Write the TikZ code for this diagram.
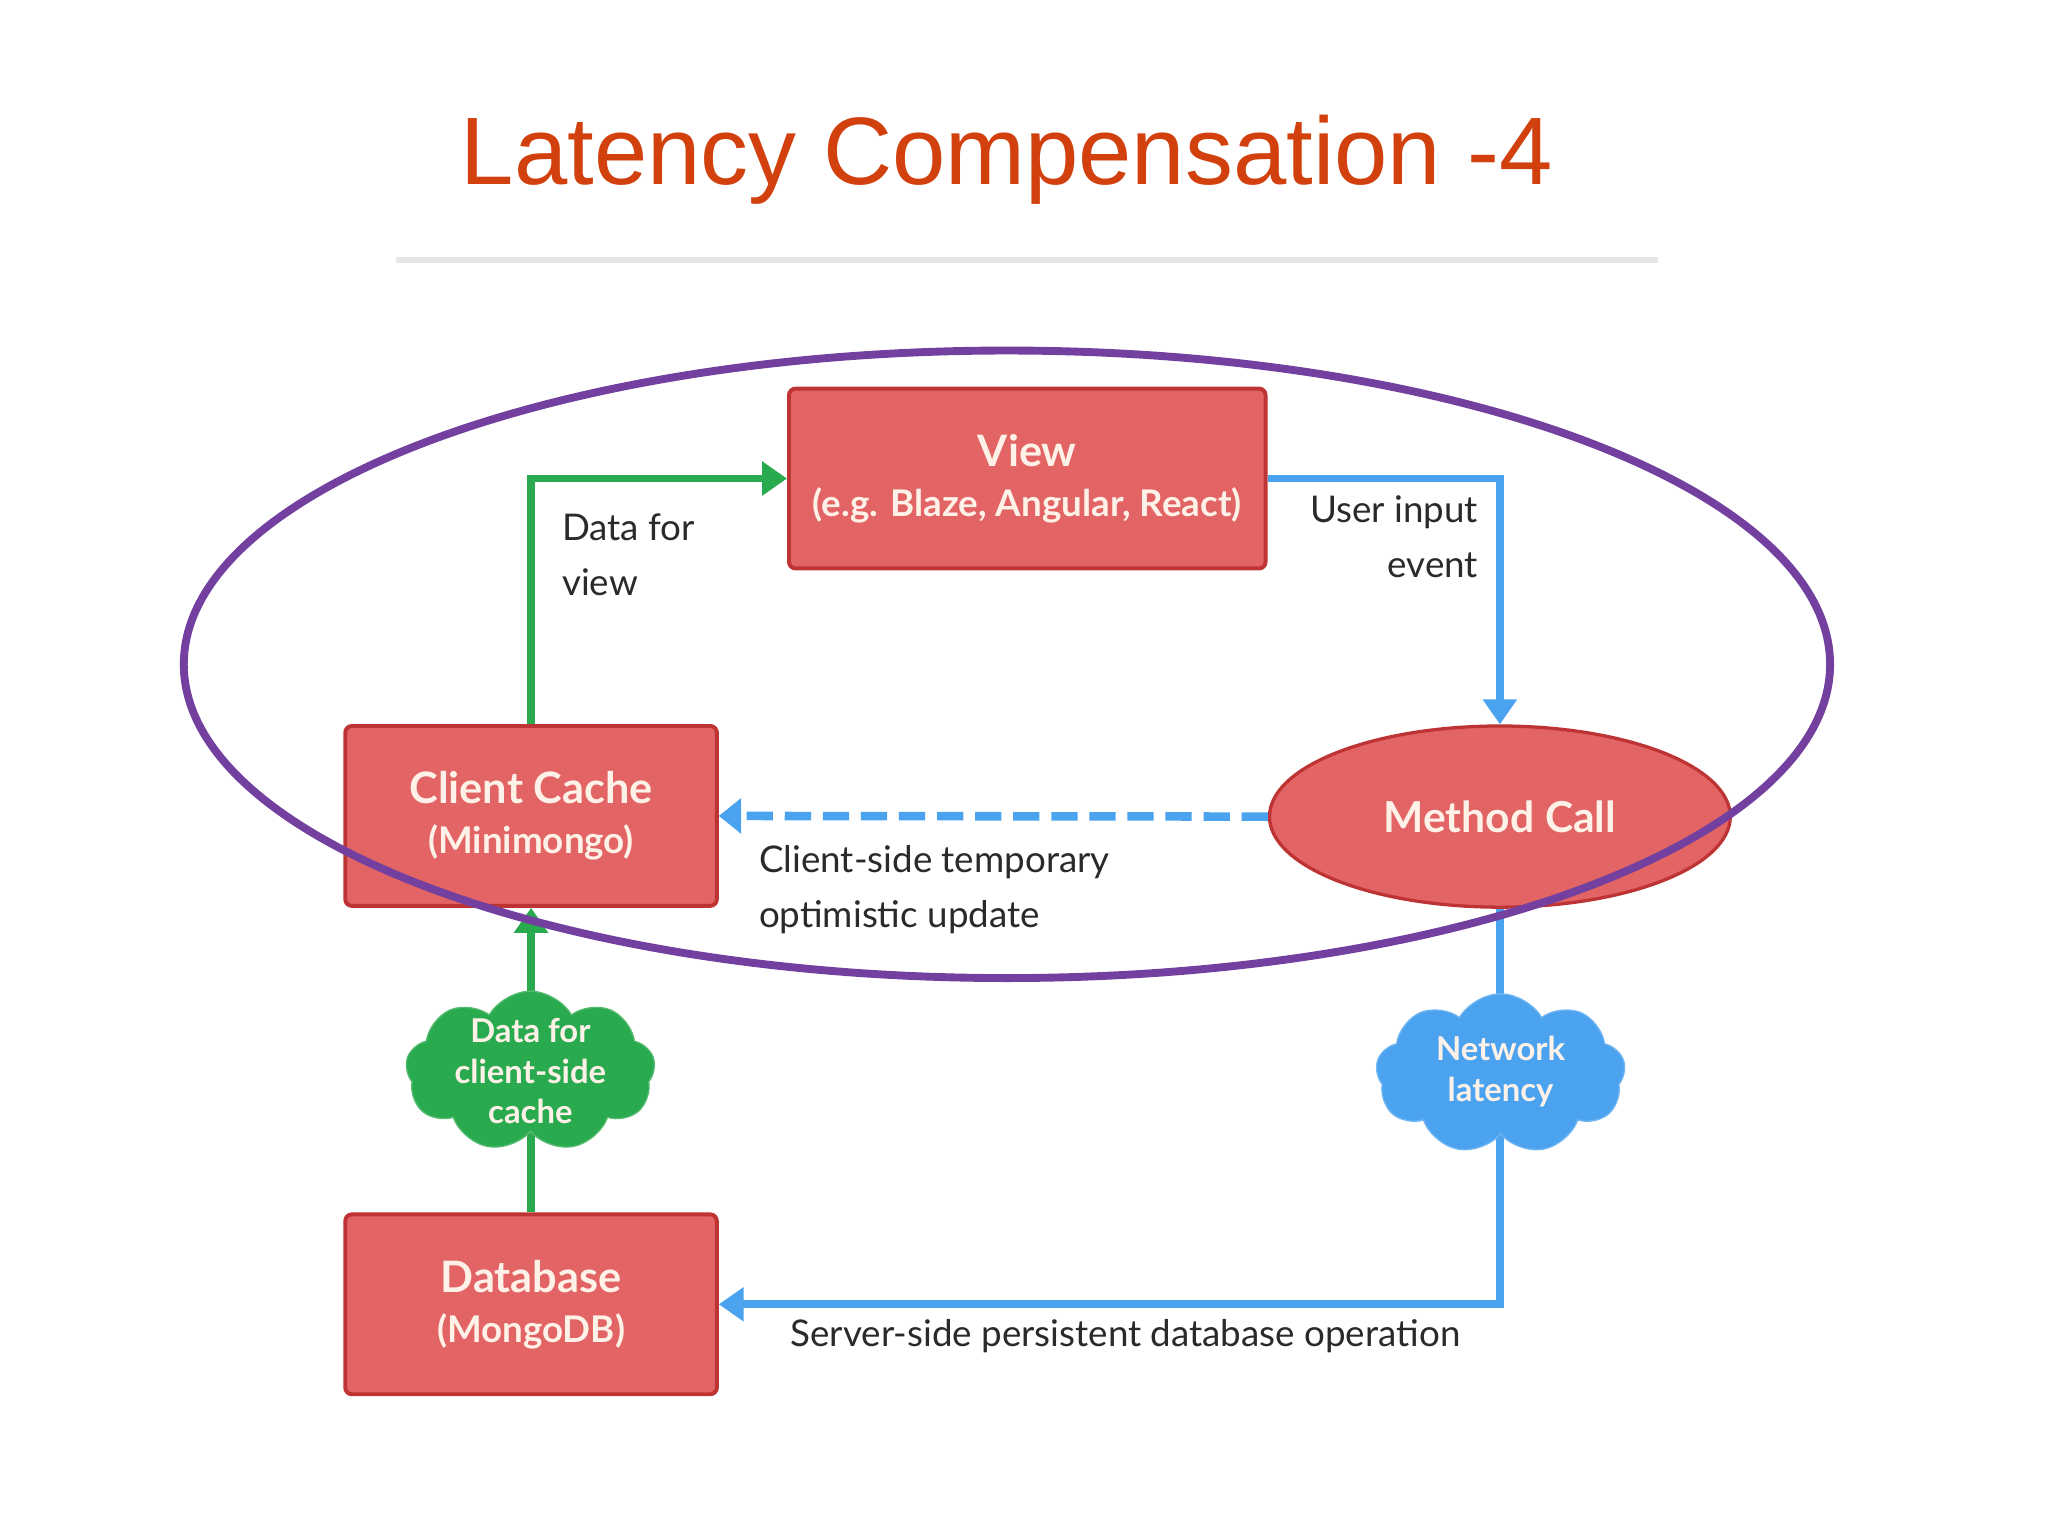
\documentclass[tikz,border=0pt]{standalone}
\usepackage{fontspec}
\setmainfont{Lato}
\newfontfamily\titlefont{Liberation Sans}
\usetikzlibrary{arrows.meta,shapes.geometric,shapes.symbols}
\definecolor{titlecol}{HTML}{D2400E}
\definecolor{boxfill}{HTML}{E36464}
\definecolor{boxline}{HTML}{BE3434}
\definecolor{boxtext}{HTML}{FDF1E8}
\definecolor{grn}{HTML}{2AAA4E}
\definecolor{blu}{HTML}{4BA3EF}
\definecolor{purp}{HTML}{7340A0}
\definecolor{lbl}{HTML}{2A2A2A}
\definecolor{rule}{HTML}{E6E6E6}
\tikzset{
  rbox/.style={draw=boxline, fill=boxfill, line width=3pt, rounded corners=5pt,
    minimum width=283pt, minimum height=137pt, inner sep=0pt, align=center,
    text=boxtext, font=\bfseries\fontsize{28}{38}\selectfont},
  mcall/.style={ellipse, draw=boxline, fill=boxfill, line width=2.5pt,
    minimum width=351pt, minimum height=138pt, inner sep=0pt,
    text=boxtext, font=\bfseries\fontsize{32.5}{36}\selectfont},
  gcloud/.style={cloud, cloud puffs=9, cloud puff arc=120, aspect=1.55,
    fill=grn, draw=grn!80!white, line width=1pt, minimum width=190pt, minimum height=122pt, inner sep=0pt},
  bcloud/.style={cloud, cloud puffs=9, cloud puff arc=120, aspect=1.55,
    fill=blu, draw=blu!80!white, line width=1pt, minimum width=190pt, minimum height=122pt, inner sep=0pt},
  cloudtxt/.style={align=center, text=boxtext, font=\bfseries\fontsize{25}{31}\selectfont, inner sep=0pt},
  lbltxt/.style={text=lbl, font=\fontsize{28}{42}\selectfont, inner sep=0pt},
  garrow/.style={draw=grn, line width=6pt, -{Triangle[length=19pt,width=25pt]}},
  barrow/.style={draw=blu, line width=6pt, -{Triangle[length=19pt,width=25pt]}},
  bdash/.style={draw=blu, line width=6.5pt, dash pattern=on 20pt off 9pt, -{Triangle[length=17pt,width=26pt]}},
}
\begin{document}
\begin{tikzpicture}[x=1pt,y=-1pt]
\useasboundingbox (0,0) rectangle (1560,1170);
\fill[white] (0,0) rectangle (1560,1170);
% title
\node[text=titlecol, font=\titlefont\fontsize{73}{80}\selectfont, inner sep=0pt] (title) at (767,122) {Latency Compensation -4};
\coordinate (rl) at (302,198);
\coordinate (rr) at (1263,198);
\draw[rule, line width=5pt] (rl) -- (rr);
% nodes
\node[rbox, minimum width=363pt] (view) at (782.5,364.5) {{\fontsize{33}{38}\selectfont View}\\(e.g. Blaze, Angular, React)};
\node[rbox] (cc) at (404.5,621.5) {{\fontsize{33}{38}\selectfont Client Cache}\\(Minimongo)};
\node[rbox] (db) at (404.5,993.5) {{\fontsize{33}{38}\selectfont Database}\\(MongoDB)};
\node[mcall] (mc) at (1142.5,622) {Method Call};
% connectors
\draw[garrow] (cc.north) |- (view.west);
\draw[barrow] (view.east) -| (mc.north);
\draw[bdash] (mc.west) -- (cc.east);
\draw[garrow] (db.north) -- (cc.south);
\draw[barrow] (mc.south) |- (db.east);
% clouds
\node[gcloud] (gc) at (404,816) {};
\node[cloudtxt] (gct) at (404,816) {Data for\\client-side\\cache};
\node[bcloud] (bc) at (1143,818) {};
\node[cloudtxt] (bct) at (1143,816) {Network\\latency};
% labels
\node[lbltxt, anchor=north west, align=left] (l1) at (428,391) {Data for\\view};
\node[lbltxt, anchor=north east, align=right] (l2) at (1126,377) {User input\\event};
\node[lbltxt, anchor=north west, align=left] (l3) at (578,644) {Client-side temporary\\optimistic update};
\node[lbltxt, anchor=north west] (l4) at (602,1005) {Server-side persistent database operation};
% purple ellipse
\node[ellipse, draw=purp, line width=6pt, minimum width=1254pt, minimum height=478pt, inner sep=0pt] (oval) at (767,506) {};
\end{tikzpicture}
\end{document}
